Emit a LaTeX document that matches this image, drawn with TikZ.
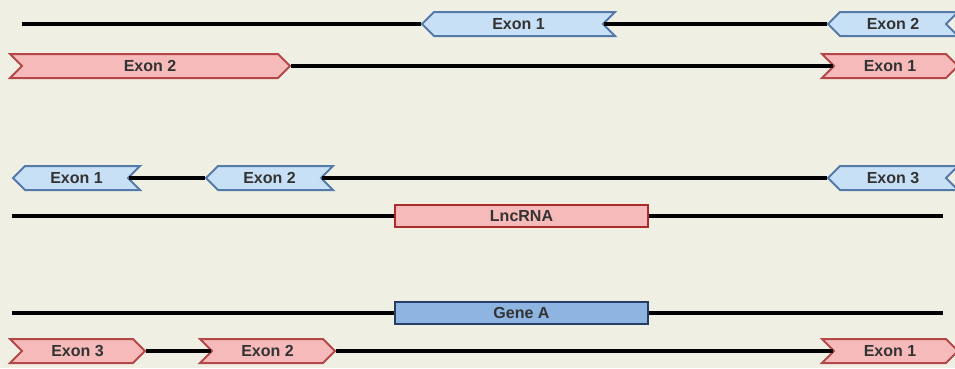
\documentclass[tikz,border=0pt]{standalone}
\usepackage{fontspec}
\setmainfont{Liberation Sans}
\usetikzlibrary{shapes.symbols}
\definecolor{bg}{RGB}{239,239,228}
\definecolor{exblue}{RGB}{200,224,245}
\definecolor{exbluedraw}{RGB}{84,122,170}
\definecolor{exred}{RGB}{246,186,186}
\definecolor{exreddraw}{RGB}{180,72,72}
\definecolor{geneblue}{RGB}{142,180,226}
\definecolor{genedraw}{RGB}{38,62,100}
\definecolor{lncdraw}{RGB}{172,42,42}

\begin{document}
\begin{tikzpicture}[x=1pt,y=-1pt,
  exon/.style={signal, minimum height=24pt, inner sep=0pt, line width=2pt,
    font=\fontsize{16}{16}\selectfont\bfseries, text=black!80},
  revexon/.style={exon, signal to=west, signal from=east, fill=exblue, draw=exbluedraw},
  fwdexon/.style={exon, signal to=east, signal from=west, fill=exred, draw=exreddraw},
  locus/.style={rectangle, minimum height=22pt, minimum width=253pt, inner sep=0pt,
    line width=2pt, font=\fontsize{16}{16}\selectfont\bfseries, text=black!80},
  strand/.style={line width=3.4pt}]
\useasboundingbox[fill=bg] (0,0) rectangle (955,368);

\node[revexon, minimum width=193pt] (a1) at (518.5,24) {Exon 1};
\node[revexon, minimum width=130pt] (a2) at (893,24) {Exon 2};
\coordinate (a0) at (22,24);
\draw[strand] (a0) -- (a1.west);
\draw[strand] (a1.east) -- (a2.west);

\node[fwdexon, minimum width=280pt] (b2) at (150,66) {Exon 2};
\node[fwdexon, minimum width=136pt] (b1) at (890,66) {Exon 1};
\draw[strand] (b2.east) -- (b1.west);

\node[revexon, minimum width=127pt] (c1) at (76.5,178) {Exon 1};
\node[revexon, minimum width=127pt] (c2) at (269.5,178) {Exon 2};
\node[revexon, minimum width=130pt] (c3) at (893,178) {Exon 3};
\draw[strand] (c1.east) -- (c2.west);
\draw[strand] (c2.east) -- (c3.west);

\node[locus, fill=exred, draw=lncdraw] (lnc) at (521.5,216) {LncRNA};
\coordinate (d0) at (12,216);
\coordinate (d1) at (943,216);
\draw[strand] (d0) -- (lnc.west);
\draw[strand] (lnc.east) -- (d1);

\node[locus, fill=geneblue, draw=genedraw] (gA) at (521.5,313) {Gene A};
\coordinate (e0) at (12,313);
\coordinate (e1) at (943,313);
\draw[strand] (e0) -- (gA.west);
\draw[strand] (gA.east) -- (e1);

\node[fwdexon, minimum width=135pt] (f3) at (77.5,351) {Exon 3};
\node[fwdexon, minimum width=135pt] (f2) at (267.5,351) {Exon 2};
\node[fwdexon, minimum width=136pt] (f1) at (890,351) {Exon 1};
\draw[strand] (f3.east) -- (f2.west);
\draw[strand] (f2.east) -- (f1.west);
\end{tikzpicture}
\end{document}
